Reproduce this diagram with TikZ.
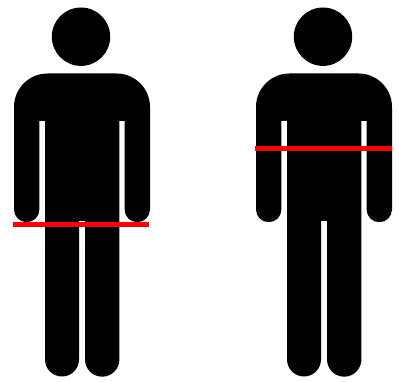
\documentclass[tikz,border=0pt]{standalone}
\tikzset{
  figshape/.style={fill=black,draw=none},
  girth/.style={draw=red,line width=5.4pt,line cap=butt},
}
\begin{document}
\begin{tikzpicture}[x=1pt,y=1pt]
\useasboundingbox (0,0) rectangle (399,382);
\foreach \dx in {0,242}{
\begin{scope}[xshift=\dx pt]
  \fill[figshape] (81,345.3) circle[radius=29.2pt];
  \fill[figshape] (47.5,308.5) -- (116.5,308.5)
    arc[start angle=90,end angle=0,radius=33.5pt]
    -- (150,172.5)
    arc[start angle=0,end angle=-180,radius=12.7pt]
    -- (124.6,261) -- (119.4,261) -- (119.4,22.5)
    arc[start angle=0,end angle=-180,radius=17.2pt]
    -- (85,161) -- (79,161) -- (79,22.5)
    arc[start angle=0,end angle=-180,radius=17pt]
    -- (45,261) -- (39.4,261) -- (39.4,172.5)
    arc[start angle=0,end angle=-180,radius=12.7pt]
    -- (14,275)
    arc[start angle=180,end angle=90,radius=33.5pt]
    -- cycle;
\end{scope}
}
\coordinate (la) at (13,157.5);
\coordinate (lb) at (149,157.5);
\coordinate (ra) at (255,233.3);
\coordinate (rb) at (391.5,233.3);
\draw[girth] (la) -- (lb);
\draw[girth] (ra) -- (rb);
\end{tikzpicture}
\end{document}
